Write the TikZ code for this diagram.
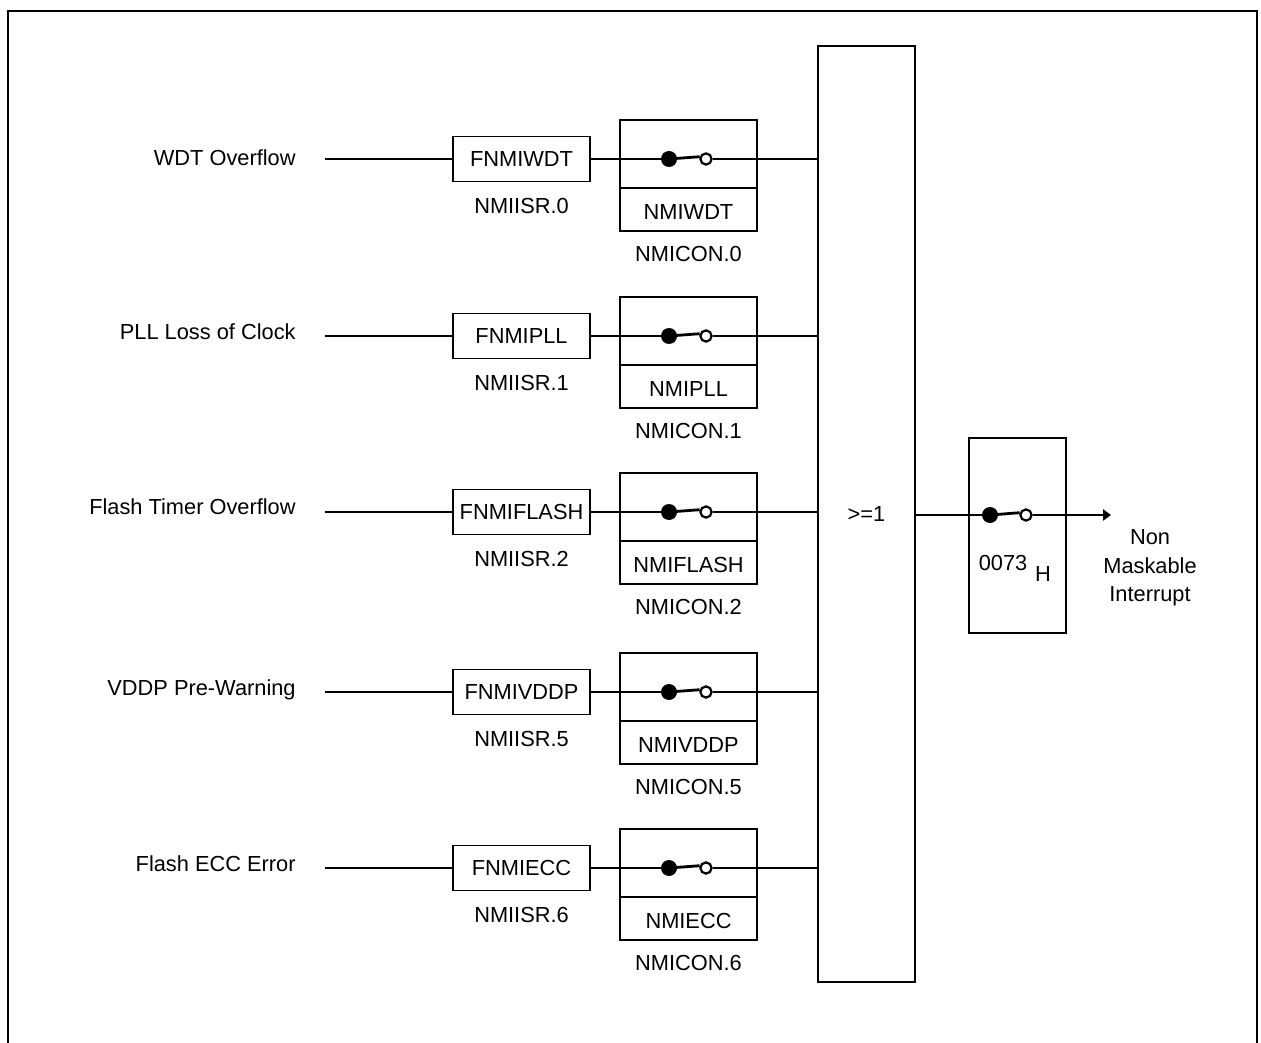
\documentclass[tikz,border=0pt]{standalone}
\usepackage{fontspec}
\setmainfont{Liberation Sans}
\usetikzlibrary{arrows.meta,calc}
\begin{document}
\begin{tikzpicture}[x=0.5pt,y=-0.5pt,
  every node/.style={font=\fontsize{10.9}{14.25}\selectfont, inner sep=0pt},
  wire/.style={line width=1.4pt},
  frame/.style={line width=1.4pt},
  regbox/.style={draw, line width=0.8pt, minimum width=68.5pt, minimum height=22.5pt},
  conbox/.style={draw, line width=0.8pt, minimum width=68.5pt, minimum height=55.5pt},
  gatebox/.style={draw, line width=1.3pt},
  dotf/.style={circle, fill, minimum size=8pt},
  doto/.style={circle, draw, line width=1.1pt, fill=white, minimum size=5.6pt}]
\useasboundingbox (0,0) rectangle (1261,1042);
\draw[frame] (8,1045) -- (8,11) -- (1257,11) -- (1257,1045);
\node[gatebox, minimum width=48.5pt, minimum height=468pt] (or) at (866.5,514) {>=1};
\foreach \i/\y/\ty/\inp/\fn/\isr/\ncon/\con in {
  1/159/158/WDT Overflow/FNMIWDT/NMIISR.0/NMIWDT/NMICON.0,
  2/336/332/PLL Loss of Clock/FNMIPLL/NMIISR.1/NMIPLL/NMICON.1,
  3/512/507/Flash Timer Overflow/FNMIFLASH/NMIISR.2/NMIFLASH/NMICON.2,
  4/692/690/VDDP Pre-Warning/FNMIVDDP/NMIISR.5/NMIVDDP/NMICON.5,
  5/868/864/Flash ECC Error/FNMIECC/NMIISR.6/NMIECC/NMICON.6}{
  \node[anchor=east] (inp\i) at (296,\ty) {\inp};
  \coordinate (s\i) at (325,\y);
  \node[regbox] (fn\i) at (521.5,\y) {\fn};
  \node (isr\i) at (521.5,\y+47) {\isr};
  \node[conbox] (con\i) at (688.5,\y+16.5) {};
  \draw[line width=0.8pt] ($(con\i.south west)+(0,-44)$) -- ($(con\i.south east)+(0,-44)$);
  \node (ncon\i) at (688.5,\y+53) {\ncon};
  \node (conl\i) at (688.5,\y+95) {\con};
  \draw[wire] (s\i) -- (fn\i.west);
  \draw[wire] (fn\i.east) -- (669,\y);
  \node[dotf] (fc\i) at (669,\y) {};
  \node[doto] (oc\i) at (706,\y) {};
  \draw[wire] (fc\i.center) -- (oc\i.160);
  \draw[wire] (oc\i.east) -- (oc\i.east -| or.west);
}
\node[gatebox, minimum width=48.5pt, minimum height=97.5pt] (ob) at (1017.5,535.5) {};
\node[dotf] (fco) at (990,515) {};
\node[doto] (oco) at (1026,515) {};
\coordinate (arr) at (1111,515);
\draw[wire] (or.east |- fco) -- (fco.center);
\draw[wire] (fco.center) -- (oco.160);
\draw[wire, -{Triangle[length=4pt,width=5.5pt]}] (oco.east) -- (arr);
\node (addr) at (1003,563) {0073};
\node (h) at (1043,574) {H};
\node[align=center] (nmi) at (1150,568) {Non\\Maskable\\Interrupt};
\end{tikzpicture}
\end{document}
